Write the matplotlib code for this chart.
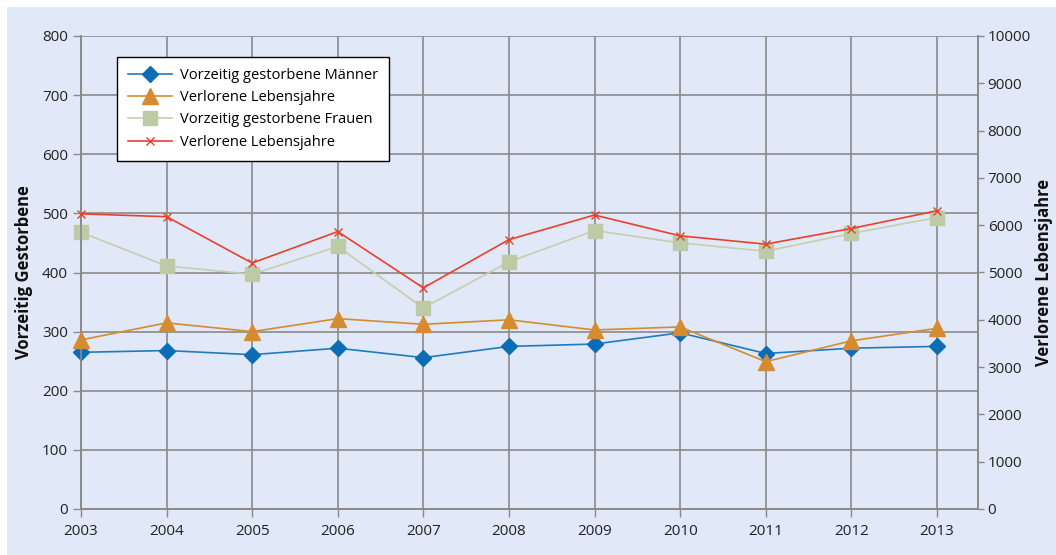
import numpy as np
import matplotlib.pyplot as plt
from matplotlib.patches import Rectangle

plt.rcParams['font.family'] = ['Open Sans', 'DejaVu Sans']

years = [2003, 2004, 2005, 2006, 2007, 2008, 2009, 2010, 2011, 2012, 2013]

# left axis: premature deaths
men_deaths = [265, 268, 261, 272, 256, 275, 279, 298, 263, 272, 275]
women_deaths = [468, 411, 397, 444, 340, 418, 471, 450, 436, 466, 493]

# right axis: lost life years
men_years = [3575, 3935, 3750, 4025, 3905, 4000, 3785, 3850, 3115, 3555, 3820]
women_years = [6240, 6180, 5200, 5865, 4675, 5695, 6215, 5775, 5600, 5930, 6305]

labels = ["Vorzeitig gestorbene Männer", "Verlorene Lebensjahre",
          "Vorzeitig gestorbene Frauen", "Verlorene Lebensjahre"]

bg = "#E1E8F7"
gridc = "#8A8A8A"

fig = plt.figure(figsize=(10.56, 5.55), dpi=100, facecolor="white")
fig.patches.append(Rectangle((7 / 1056, 0), 1, 1 - 7 / 555, transform=fig.transFigure,
                             facecolor=bg, edgecolor="none", zorder=-10))

ax = fig.add_axes([81 / 1056, 1 - 509 / 555, (978 - 81) / 1056, (509 - 36) / 555])
ax.set_facecolor(bg)
ax2 = ax.twinx()

l1, = ax.plot(years, men_deaths, color="#1F7BC0", lw=1.2, marker="D", ms=8.5,
              mfc="#0A6DB6", mec="#0A6DB6", zorder=5, clip_on=False)
l3, = ax.plot(years, women_deaths, color="#C3CFAE", lw=1.2, marker="s", ms=10,
              mfc="#BCCAA5", mec="#BCCAA5", zorder=4, clip_on=False)
l2, = ax2.plot(years, men_years, color="#D68B30", lw=1.2, marker="^", ms=11,
               mfc="#D68B30", mec="#D68B30", zorder=5, clip_on=False)
l4, = ax2.plot(years, women_years, color="#E8412B", lw=1.2, marker="x", ms=6,
               mew=1.0, zorder=6, clip_on=False)

ax.set_xlim(2003, 2013.48)
ax.set_ylim(0, 800)
ax2.set_ylim(0, 10000)
ax.set_xticks(years)
ax.set_yticks(np.arange(0, 801, 100))
ax2.set_yticks(np.arange(0, 10001, 1000))

ax.grid(True, color=gridc, lw=1.2)
ax.set_axisbelow(True)
for a in (ax, ax2):
    a.spines["top"].set_visible(False)
    for s in ("left", "right", "bottom"):
        a.spines[s].set_color(gridc)
        a.spines[s].set_linewidth(1.2)
ax.tick_params(axis="both", colors=gridc, labelcolor="#222222", labelsize=11, length=6, width=1)
ax.tick_params(axis="x", pad=5)
ax2.tick_params(axis="y", colors=gridc, labelcolor="#222222", labelsize=11, length=4, width=1, pad=3)

ax.set_ylabel("Vorzeitig Gestorbene", fontsize=12, fontweight="bold", color="#111111", labelpad=6)
ax2.set_ylabel("Verlorene Lebensjahre", fontsize=12, fontweight="bold", color="#111111", labelpad=3)

leg = ax.legend([l1, l2, l3, l4], labels, loc="upper left", bbox_to_anchor=(0.040, 0.956),
                borderaxespad=0, fontsize=10.5, frameon=True, fancybox=False, framealpha=1,
                handlelength=3, borderpad=0.75, labelspacing=0.5, handletextpad=0.6)
leg.get_frame().set_edgecolor("black")
leg.get_frame().set_linewidth(1.0)
leg.set_zorder(10)

fig.savefig("out.png", dpi=100, facecolor=fig.get_facecolor())
